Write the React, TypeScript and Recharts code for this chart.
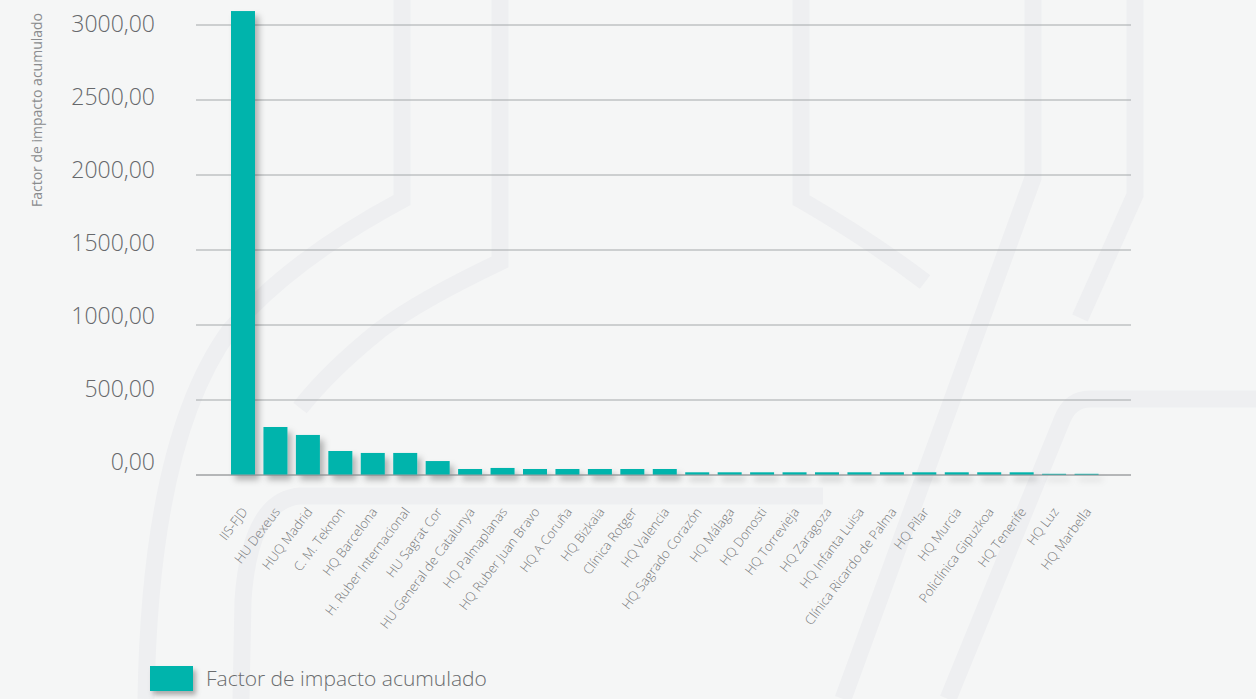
import { BarChart, Bar, XAxis, YAxis, CartesianGrid } from "recharts";

const centers = [
  "IIS-FJD",
  "HU Dexeus",
  "HUQ Madrid",
  "C. M. Teknon",
  "HQ Barcelona",
  "H. Ruber Internacional",
  "HU Sagrat Cor",
  "HU General de Catalunya",
  "HQ Palmaplanas",
  "HQ Ruber Juan Bravo",
  "HQ A Coruña",
  "HQ Bizkaia",
  "Clínica Rotger",
  "HQ Valencia",
  "HQ Sagrado Corazón",
  "HQ Málaga",
  "HQ Donosti",
  "HQ Torrevieja",
  "HQ Zaragoza",
  "HQ Infanta Luisa",
  "Clínica Ricardo de Palma",
  "HQ Pilar",
  "HQ Murcia",
  "Policlínica Gipuzkoa",
  "HQ Tenerife",
  "HQ Luz",
  "HQ Marbella",
];

const impactFactor = [
  3093, 320, 267, 160, 147, 147, 93, 40, 47, 40, 40, 40, 40, 40, 18, 18, 18,
  18, 18, 18, 18, 18, 18, 18, 18, 8, 8,
];

const yTicks = [0, 500, 1000, 1500, 2000, 2500, 3000];

const seriesName = "Factor de impacto acumulado";

const data = centers.map((name, i) => ({ name, value: impactFactor[i] }));

const TEAL = "#00b4ac";
const FONT = "'Open Sans', sans-serif";

const fmt = (v: number) => v.toFixed(2).replace(".", ",");

// labels in the original sit a little above their lines, more so near zero
function YTick({ x, y, payload }: any) {
  const lift = 1 + (12 * (y - 25)) / 450;
  return (
    <text
      x={x}
      y={y - lift}
      dy="0.355em"
      textAnchor="end"
      fontFamily={FONT}
      fontWeight={300}
      fontSize={23}
      fill="#66686b"
    >
      {fmt(payload.value)}
    </text>
  );
}

function XTick({ x, y, payload }: any) {
  return (
    <g transform={`translate(${x + 5},${y + 37})`}>
      <text
        textAnchor="end"
        transform="rotate(-53)"
        fontFamily={FONT}
        fontWeight={300}
        fontSize={13}
        fill="#76787a"
      >
        {payload.value}
      </text>
    </g>
  );
}

function ShadowBar(props: any) {
  const { x, y, width, height } = props;
  if (!height || height <= 0) return null;
  return (
    <rect
      x={x}
      y={y}
      width={width}
      height={height}
      fill={TEAL}
      filter="url(#barShadow)"
    />
  );
}

// faint background strokes
const decor = [
  "M402,0 L402,200 Q290,260 230,330 Q150,440 146,699",
  "M500,0 L500,262 Q420,300 380,330 Q330,370 300,408",
  "M801,0 L801,200 Q870,240 925,282",
  "M1033,0 L1033,178 L843,699",
  "M1135,0 L1135,195 L1080,318",
  "M1256,399 L1090,399 Q1070,399 1062,420 L948,699",
  "M823,496 L300,496 Q250,500 243,600 L241,699",
];

export default function App() {
  return (
    <div
      style={{
        position: "absolute",
        left: 0,
        top: 0,
        width: 1256,
        height: 699,
        background: "#f5f6f6",
        overflow: "hidden",
      }}
    >
      <svg
        width={1256}
        height={699}
        style={{ position: "absolute", left: 0, top: 0 }}
      >
        <defs>
          <filter
            id="legendShadow"
            filterUnits="userSpaceOnUse"
            x={0}
            y={0}
            width={1256}
            height={699}
          >
            <feDropShadow dx={3} dy={4} stdDeviation={2.5} floodColor="#000" floodOpacity={0.3} />
          </filter>
        </defs>
        {decor.map((d, i) => (
          <path key={i} d={d} fill="none" stroke="#eeeff1" strokeWidth={17} />
        ))}
        <text
          transform="translate(42,110) rotate(-90)"
          textAnchor="middle"
          fontFamily={FONT}
          fontSize={14}
          fill="#8a8c8e"
        >
          {seriesName}
        </text>
        <rect x={150} y={666} width={43} height={25} fill={TEAL} filter="url(#legendShadow)" />
        <text x={206} y={686} fontFamily={FONT} fontWeight={300} fontSize={21} fill="#6a6c6e">
          {seriesName}
        </text>
      </svg>
      <div style={{ position: "absolute", left: 0, top: 0 }}>
        <BarChart
          width={1256}
          height={699}
          data={data}
          margin={{ top: 10, right: 125, left: 0, bottom: 0 }}
        >
          <defs>
            <filter
              id="barShadow"
              filterUnits="userSpaceOnUse"
              x={0}
              y={0}
              width={1256}
              height={699}
            >
              <feDropShadow dx={4} dy={5} stdDeviation={3} floodColor="#000" floodOpacity={0.28} />
            </filter>
          </defs>
          <CartesianGrid vertical={false} stroke="#a4a8aa" syncWithTicks />
          <XAxis
            dataKey="name"
            interval={0}
            tick={<XTick />}
            tickLine={false}
            axisLine={{ stroke: "#9c9ea0" }}
            padding={{ left: 31, right: 28 }}
            tickSize={0}
            tickMargin={0}
            height={224}
          />
          <YAxis
            domain={[0, 3100]}
            ticks={yTicks}
            tick={<YTick />}
            tickLine={false}
            axisLine={false}
            tickSize={0}
            tickMargin={41}
            width={196}
          />
          <Bar
            dataKey="value"
            name={seriesName}
            barSize={24}
            fill={TEAL}
            shape={<ShadowBar />}
            isAnimationActive={false}
          />
        </BarChart>
      </div>
    </div>
  );
}
